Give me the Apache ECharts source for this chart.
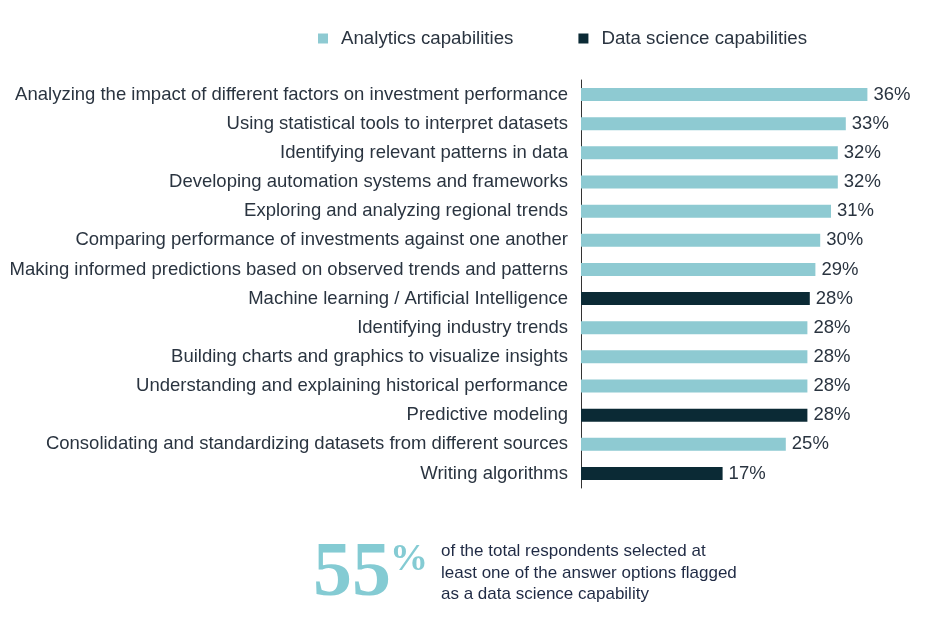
<!DOCTYPE html>
<html>
<head>
<meta charset="utf-8">
<script src="https://cdn.jsdelivr.net/npm/echarts@6/dist/echarts.min.js"></script>
<style>
html,body{margin:0;padding:0;background:#fff;}
#chart{width:927px;height:619px;}
</style>
</head>
<body>
<div id="chart"></div>
<script>
const categories = [
  "Analyzing the impact of different factors on investment performance",
  "Using statistical tools to interpret datasets",
  "Identifying relevant patterns in data",
  "Developing automation systems and frameworks",
  "Exploring and analyzing regional trends",
  "Comparing performance of investments against one another",
  "Making informed predictions based on observed trends and patterns",
  "Machine learning / Artificial Intelligence",
  "Identifying industry trends",
  "Building charts and graphics to visualize insights",
  "Understanding and explaining historical performance",
  "Predictive modeling",
  "Consolidating and standardizing datasets from different sources",
  "Writing algorithms"
];
// bar lengths (percent)
const values = [35.8, 33.1, 32.1, 32.1, 31.25, 29.9, 29.3, 28.6, 28.3, 28.3, 28.3, 28.3, 25.6, 17.7];
// printed labels
const valueLabels = ["36%", "33%", "32%", "32%", "31%", "30%", "29%", "28%", "28%", "28%", "28%", "28%", "25%", "17%"];
// true = data science capability
const isDataScience = [false, false, false, false, false, false, false, true, false, false, false, true, false, true];
const seriesNames = ["Analytics capabilities", "Data science capabilities"];
const colors = ["#8ECAD2", "#0B2A35"];

const analytics = values.map((v, i) => isDataScience[i] ? '-' : v);
const dataSci = values.map((v, i) => isDataScience[i] ? v : '-');

const textColor = "#2a3440";
const labelOpt = {
  show: true,
  position: "right",
  distance: 6,
  fontFamily: "Liberation Sans",
  fontSize: 18.5,
  color: textColor,
  formatter: p => valueLabels[p.dataIndex]
};

const chart = echarts.init(document.getElementById("chart"));
chart.setOption({
  animation: false,
  legend: {
    left: 313,
    top: 24,
    itemWidth: 10,
    itemHeight: 10,
    itemGap: 65,
    icon: "rect",
    textStyle: { fontFamily: "Liberation Sans", fontSize: 18.7, color: textColor, padding: [0, 0, 0, 8] },
    data: seriesNames
  },
  grid: { left: 581, top: 80, width: 320, height: 408, containLabel: false },
  xAxis: {
    type: "value", min: 0, max: 40, show: false
  },
  yAxis: {
    type: "category",
    data: categories,
    inverse: true,
    axisLine: { show: true, lineStyle: { color: "#333", width: 1 } },
    axisTick: { show: false },
    axisLabel: { margin: 13, fontFamily: "Liberation Sans", fontSize: 18.5, color: textColor }
  },
  series: [
    { name: seriesNames[0], type: "bar", data: analytics, barWidth: 13, barGap: "-100%",
      itemStyle: { color: colors[0] }, label: labelOpt },
    { name: seriesNames[1], type: "bar", data: dataSci, barWidth: 13, barGap: "-100%",
      itemStyle: { color: colors[1] }, label: labelOpt }
  ],
  graphic: [
    { type: "text", left: 313, top: 536,
      style: { text: "55", font: "bold 78px 'Liberation Serif'", fill: "#84CBD3" } },
    { type: "text", left: 390, top: 541,
      style: { text: "%", font: "bold 38px 'Liberation Serif'", fill: "#84CBD3" } },
    { type: "text", left: 441, top: 541,
      style: { text: "of the total respondents selected at\nleast one of the answer options flagged\nas a data science capability",
               font: "17px 'Liberation Sans'", lineHeight: 21.5, fill: "#1f2a44" } }
  ]
});
</script>
</body>
</html>
